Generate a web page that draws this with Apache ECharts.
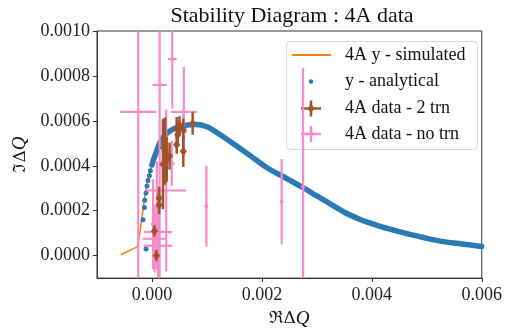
<!DOCTYPE html>
<html><head><meta charset="utf-8">
<script src="https://cdn.jsdelivr.net/npm/echarts@6/dist/echarts.min.js"></script>
<style>html,body{margin:0;padding:0;background:#fff}#c{width:505px;height:333px}</style>
</head><body><div id="c"></div>
<script>
// ---- data ----
const simX = [-0.00057, -0.00026, -0.00021, -0.00016, -0.00012, -0.00008, -0.00004, 0, 0.00015, 0.00025, 0.00036, 0.0006, 0.0008, 0.001, 0.0012, 0.0015, 0.0018, 0.0021, 0.0024, 0.0027, 0.003, 0.0032, 0.0035, 0.0038, 0.004, 0.0043, 0.0046, 0.0049, 0.0052, 0.0055, 0.0058, 0.006];
const simY = [0.000004, 0.00004, 0.00012, 0.00021, 0.00028, 0.00033, 0.00037, 0.0004, 0.000503, 0.000537, 0.000557, 0.000577, 0.000581, 0.000571, 0.000542, 0.000491, 0.000439, 0.000386, 0.000345, 0.000304, 0.000261, 0.000232, 0.000188, 0.000155, 0.000138, 0.000115, 0.000095, 0.000078, 0.000063, 0.000052, 0.000043, 0.000037];

const anaX = [-0.000108, -0.000162, -0.000137, -0.000132, -0.000108, -0.00009, -0.000072, -0.000047, -0.000029, 0, 0.00003, 0.000067, 0.000108, 0.00015, 0.00025, 0.00036, 0.00048, 0.0006, 0.0008, 0.001, 0.0012, 0.0015, 0.0018, 0.0021, 0.0024, 0.0027, 0.003, 0.0032, 0.0035, 0.0038, 0.004, 0.0043, 0.0046, 0.0049, 0.0052, 0.0055, 0.0058, 0.006];
const anaY = [0.000029, 0.00016, 0.000214, 0.000247, 0.000279, 0.00031, 0.000334, 0.000356, 0.000378, 0.000404, 0.000429, 0.000453, 0.00048, 0.000506, 0.00054, 0.00056, 0.000572, 0.00058, 0.000584, 0.000574, 0.000545, 0.000495, 0.000443, 0.00039, 0.00035, 0.000309, 0.000266, 0.000237, 0.000193, 0.00016, 0.000143, 0.00012, 0.0001, 0.000083, 0.000067, 0.000056, 0.000047, 0.000041];
const anaSparseCount = 10;

const trnX = [0.00008, 0.000045, 0.00013, 0.00013, 0.0002, 0.00021, 0.00024, 0.00027, 0.00032, 0.00045, 0.00047, 0.00045, 0.0005, 0.00057, 0.00057, 0.00074];
const trnY = [0.0, 0.00011, 0.000225, 0.000257, 0.000407, 0.00048, 0.000465, 0.000429, 0.000443, 0.000494, 0.000538, 0.000567, 0.000581, 0.00056, 0.000465, 0.000588];
const trnXerr = [0.00001, 0.00001, 0.00001, 0.00001, 0.00002, 0.00002, 0.00002, 0.00002, 0.00002, 0.00002, 0.00002, 0.00002, 0.00002, 0.00002, 0.00002, 0.00002];
const trnYerr = [0.000025, 0.000025, 0.00004, 0.00005, 0.0002, 0.00013, 0.00015, 0.0001, 0.00006, 0.00004, 0.00005, 0.00005, 0.00004, 0.00005, 0.00007, 0.00005];

const noX = [-0.00025, 0.00014, 0.00037, 0.00058, 0.00057, 0.00036, 0.00026, 0.00011, 0.00005, 0.00011, 0.00002, 0.00009, 0.00099, 0.00236, 0.00275];
const noY = [0.00064, 0.00076, 0.000875, 0.00064, 0.00055, 0.00041, 0.00029, 0.000105, 0.000075, 0.000044, 0.00014, 0.00018, 0.00022, 0.00024, 0.000305];
const noXerr = [0.00033, 0.00013, 0.00008, 0.00024, 0.00007, 0.00005, 0.00036, 0.00026, 0.00022, 0.00026, 0.00004, 0.00003, 0.00001, 0.00003, 0.00001];
const noYerr = [0.001, 0.001, 0.00022, 0.0002, 0.00008, 0.0001, 0.00036, 0.00012, 0.00015, 0.00015, 0.0002, 0.00024, 0.00018, 0.00019, 0.00053];

const xTicks = [0, 0.002, 0.004, 0.006];
const yTicks = [0, 0.0002, 0.0004, 0.0006, 0.0008, 0.001];
const seriesNames = ['4A y - simulated', 'y - analytical', '4A data - 2 trn', '4A data - no trn'];
const titleText = 'Stability Diagram : 4A data';

// ---- styles ----
const SERIF = "'Liberation Serif', 'DejaVu Serif', serif";
const C_ORANGE = '#ff7f0e', C_BLUE = '#2a7ab5', C_BROWN = '#a0522d', C_PINK = '#f58cc8';

const zip = (a, b, c, d) => a.map((v, i) => d ? [v, b[i], c[i], d[i]] : [v, b[i]]);

function errRender(color, lw, marker, msize) {
  return function (params, api) {
    const cs = params.coordSys;
    const x0 = cs.x, x1 = cs.x + cs.width, y0 = cs.y, y1 = cs.y + cs.height;
    const x = api.value(0), y = api.value(1), dx = api.value(2), dy = api.value(3);
    const c = api.coord([x, y]);
    const l = api.coord([x - dx, y]), r = api.coord([x + dx, y]);
    const t = api.coord([x, y + dy]), b = api.coord([x, y - dy]);
    const clampX = v => Math.max(x0, Math.min(x1, v));
    const clampY = v => Math.max(y0, Math.min(y1, v));
    const st = { stroke: color, lineWidth: lw };
    const ch = [];
    if (c[1] >= y0 && c[1] <= y1)
      ch.push({ type: 'line', shape: { x1: clampX(l[0]), y1: c[1], x2: clampX(r[0]), y2: c[1] }, style: st });
    if (c[0] >= x0 && c[0] <= x1)
      ch.push({ type: 'line', shape: { x1: c[0], y1: clampY(t[1]), x2: c[0], y2: clampY(b[1]) }, style: st });
    if (marker === 'diamond') {
      const s = msize / 2;
      ch.push({ type: 'polygon', shape: { points: [[c[0], c[1] - s], [c[0] + s * 0.8, c[1]], [c[0], c[1] + s], [c[0] - s * 0.8, c[1]]] }, style: { fill: color } });
    } else {
      ch.push({ type: 'circle', shape: { cx: c[0], cy: c[1], r: msize / 2 }, style: { fill: color } });
    }
    return { type: 'group', children: ch };
  };
}

const chart = echarts.init(document.getElementById('c'), null, { renderer: 'canvas' });

// legend (drawn manually)
const LX = 286, LY = 41, LW = 191, LH = 108;
const rowY = [55, 81.5, 108.5, 134];
const iconCx = 311, textX = 345;
const legendEls = [
  { type: 'rect', shape: { x: LX + 0.5, y: LY + 0.5, width: LW, height: LH, r: 4 }, style: { fill: 'rgba(255,255,255,0.8)', stroke: '#d6d6d6', lineWidth: 1 } },
  { type: 'line', shape: { x1: 292, y1: rowY[0], x2: 331, y2: rowY[0] }, style: { stroke: C_ORANGE, lineWidth: 2 } },
  { type: 'circle', shape: { cx: iconCx, cy: rowY[1], r: 2.2 }, style: { fill: C_BLUE } },
  { type: 'line', shape: { x1: 301, y1: rowY[2], x2: 321, y2: rowY[2] }, style: { stroke: C_BROWN, lineWidth: 2.5 } },
  { type: 'line', shape: { x1: iconCx, y1: rowY[2] - 8, x2: iconCx, y2: rowY[2] + 8 }, style: { stroke: C_BROWN, lineWidth: 2.5 } },
  { type: 'polygon', shape: { points: [[iconCx, rowY[2] - 4.5], [iconCx + 3.6, rowY[2]], [iconCx, rowY[2] + 4.5], [iconCx - 3.6, rowY[2]]] }, style: { fill: C_BROWN } },
  { type: 'line', shape: { x1: 301, y1: rowY[3], x2: 321, y2: rowY[3] }, style: { stroke: C_PINK, lineWidth: 2.5 } },
  { type: 'line', shape: { x1: iconCx, y1: rowY[3] - 8, x2: iconCx, y2: rowY[3] + 8 }, style: { stroke: C_PINK, lineWidth: 2.5 } },
  { type: 'circle', shape: { cx: iconCx, cy: rowY[3], r: 2 }, style: { fill: C_PINK } }
];
seriesNames.forEach((n, i) => legendEls.push({
  type: 'text', x: textX, y: rowY[i],
  style: { text: n, fontFamily: SERIF, fontSize: 18, fill: '#111', verticalAlign: 'middle', align: 'left' }
}));

const option = {
  animation: false,
  backgroundColor: '#fff',
  title: {
    text: titleText, left: 287, top: 0, textAlign: 'center',
    textStyle: { fontFamily: SERIF, fontSize: 22, fontWeight: 'normal', color: '#111' }
  },
  grid: { left: 97, right: 18, top: 31, bottom: 50, show: true, borderColor: '#333', borderWidth: 1, containLabel: false },
  xAxis: {
    type: 'value', min: -0.001, max: 0.006,
    name: '{a|ℜΔ}{b|Q}', nameLocation: 'middle', nameGap: 29,
    nameTextStyle: { rich: { a: { fontFamily: "'DejaVu Serif', serif", fontSize: 17, color: '#111' }, b: { fontFamily: SERIF, fontStyle: 'italic', fontSize: 19, color: '#111' } } },
    axisLine: { show: true, onZero: false, lineStyle: { color: '#333', width: 1 } },
    axisTick: { show: true, customValues: xTicks, length: 4, lineStyle: { color: '#333' } },
    axisLabel: { customValues: xTicks, formatter: v => v.toFixed(3), fontFamily: SERIF, fontSize: 18, color: '#222', margin: 8 },
    splitLine: { show: false }
  },
  yAxis: {
    type: 'value', min: -0.0001, max: 0.001,
    name: '{a|ℑΔ}{b|Q}', nameLocation: 'middle', nameGap: 60, nameRotate: 90,
    nameTextStyle: { rich: { a: { fontFamily: "'DejaVu Serif', serif", fontSize: 17, color: '#111' }, b: { fontFamily: SERIF, fontStyle: 'italic', fontSize: 19, color: '#111' } } },
    axisLine: { show: true, onZero: false, lineStyle: { color: '#333', width: 1 } },
    axisTick: { show: true, customValues: yTicks, length: 4, lineStyle: { color: '#333' } },
    axisLabel: { customValues: yTicks, formatter: v => v.toFixed(4), fontFamily: SERIF, fontSize: 18, color: '#222', margin: 7 },
    splitLine: { show: false }
  },
  series: [
    { name: seriesNames[0], type: 'line', data: zip(simX, simY), showSymbol: false, lineStyle: { color: C_ORANGE, width: 1.6 }, z: 1, silent: true },
    { name: seriesNames[1], type: 'line', data: zip(anaX, anaY).slice(anaSparseCount - 1), showSymbol: false, smooth: 0.3, lineStyle: { color: C_BLUE, width: 5.5, cap: 'round' }, z: 2, silent: true },
    { name: seriesNames[1] + ' pts', type: 'scatter', data: zip(anaX, anaY).slice(0, anaSparseCount), symbolSize: 5, itemStyle: { color: C_BLUE, opacity: 1 }, z: 2, silent: true },
    { name: seriesNames[3], type: 'custom', data: zip(noX, noY, noXerr, noYerr), renderItem: errRender(C_PINK, 2.2, 'circle', 4), z: 3, silent: true, encode: { x: 0, y: 1 } },
    { name: seriesNames[2], type: 'custom', data: zip(trnX, trnY, trnXerr, trnYerr), renderItem: errRender(C_BROWN, 2.5, 'diamond', 9), z: 4, silent: true, encode: { x: 0, y: 1 } }
  ],
  graphic: { elements: [{ type: 'group', z: 100, children: legendEls }] }
};
chart.setOption(option);
</script></body></html>
